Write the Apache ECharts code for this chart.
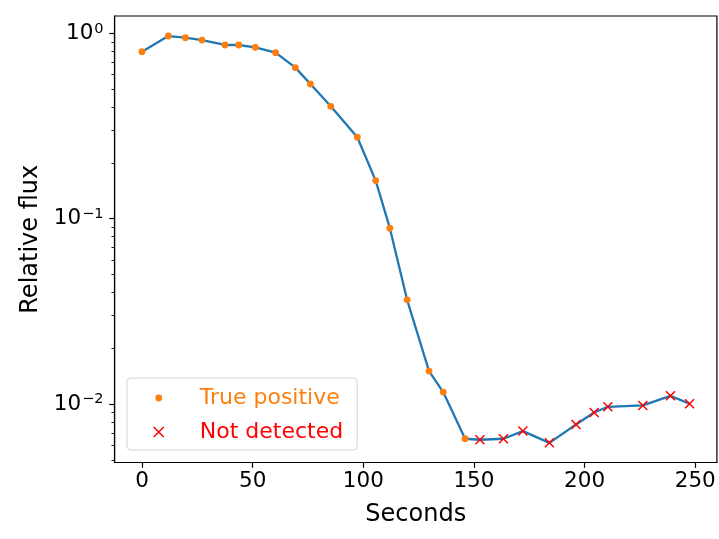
<!DOCTYPE html>
<html>
<head>
<meta charset="utf-8">
<script src="https://cdn.jsdelivr.net/npm/echarts@6/dist/echarts.min.js"></script>
<style>
  html, body { margin: 0; padding: 0; background: #ffffff; }
  #chart { width: 719px; height: 539px; }
</style>
</head>
<body>
<div id="chart"></div>
<script>
// ---- data ----
const tpSeconds = [0, 11.9, 19.6, 27.1, 37.5, 43.7, 51.2, 60.4, 69.3, 76.1, 85.3, 97.3, 105.6, 112.0, 119.8, 129.7, 136.1, 146.0];
const tpFlux    = [0.796, 0.967, 0.947, 0.920, 0.865, 0.865, 0.840, 0.786, 0.653, 0.533, 0.404, 0.275, 0.1605, 0.0889, 0.0365, 0.01506, 0.01161, 0.00650];
const ndSeconds = [152.7, 163.3, 172.1, 184.1, 196.1, 204.3, 210.5, 226.3, 238.8, 247.4];
const ndFlux    = [0.00642, 0.00650, 0.00715, 0.00618, 0.00776, 0.00901, 0.00967, 0.00983, 0.01108, 0.01004];
const xTicks = [0, 50, 100, 150, 200, 250];
const yMajorTicks = [0.01, 0.1, 1];
const yMinorTicks = [0.005, 0.006, 0.007, 0.008, 0.009,
                     0.02, 0.03, 0.04, 0.05, 0.06, 0.07, 0.08, 0.09,
                     0.2, 0.3, 0.4, 0.5, 0.6, 0.7, 0.8, 0.9];
const seriesNames = ['True positive', 'Not detected'];
const xLabel = 'Seconds';
const yLabel = 'Relative flux';

// ---- build ----
const pair = (xs, ys) => xs.map((x, i) => [x, ys[i]]);
const tpData = pair(tpSeconds, tpFlux);
const ndData = pair(ndSeconds, ndFlux);
const lineData = tpData.concat(ndData);

const FONT = 'DejaVu Sans';
const FS = 21.5;
const FS_NAME = 24;
const FS_LEG = 22;
const crossPath = 'path://M0,0L10,10M10,0L0,10';
const dotLegendPath = 'path://M0,0M10,10M1.6,5A3.4,3.4,0,1,1,8.4,5A3.4,3.4,0,1,1,1.6,5Z';
const crossLegendPath = 'path://M0.5,0.5L9.5,9.5M9.5,0.5L0.5,9.5';

function supLabel(v) {
  const e = Math.round(Math.log10(v));
  const s = e < 0 ? '\u2212' + (-e) : String(e);
  return '{b|10}{s|' + s + '}';
}

const chart = echarts.init(document.getElementById('chart'), null, { renderer: 'canvas' });
chart.setOption({
  animation: false,
  backgroundColor: '#ffffff',
  textStyle: { fontFamily: FONT },
  grid: {
    left: 114.6, right: 2.1, top: 16, bottom: 76.5,
    show: true, borderColor: '#000000', borderWidth: 1.2, backgroundColor: 'transparent'
  },
  xAxis: {
    type: 'value',
    min: -12.37, max: 259.77,
    name: xLabel,
    nameLocation: 'middle',
    nameGap: 40,
    nameTextStyle: { fontFamily: FONT, fontSize: FS_NAME, color: '#000' },
    axisLine: { show: true, onZero: false, lineStyle: { color: '#000', width: 1.2 } },
    axisTick: { show: true, length: 5.3, lineStyle: { color: '#000', width: 1.2 }, customValues: xTicks },
    axisLabel: { show: true, margin: 8, fontFamily: FONT, fontSize: FS, color: '#000', customValues: xTicks },
    splitLine: { show: false }
  },
  yAxis: [{
    type: 'log',
    logBase: 10,
    min: 0.00484, max: 1.240,
    name: yLabel,
    nameLocation: 'middle',
    nameGap: 72,
    nameRotate: 90,
    nameTextStyle: { fontFamily: FONT, fontSize: FS_NAME, color: '#000' },
    axisLine: { show: true, onZero: false, lineStyle: { color: '#000', width: 1.2 } },
    axisTick: { show: true, length: 5.3, lineStyle: { color: '#000', width: 1.2 }, customValues: yMajorTicks },
    axisLabel: {
      show: true, margin: 11, customValues: yMajorTicks,
      formatter: supLabel,
      rich: {
        b: { fontFamily: FONT, fontSize: FS, color: '#000', lineHeight: 24 },
        s: { fontFamily: FONT, fontSize: 14.5, color: '#000', lineHeight: 15, verticalAlign: 'top', padding: [0, 0, 0, 1] }
      }
    },
    splitLine: { show: false }
  }, {
    type: 'log',
    logBase: 10,
    min: 0.00484, max: 1.240,
    position: 'left',
    axisLine: { show: false, onZero: false },
    axisTick: { show: true, length: 3.1, lineStyle: { color: '#000', width: 0.9 }, customValues: yMinorTicks },
    axisLabel: { show: false },
    splitLine: { show: false }
  }],
  legend: {
    show: true,
    orient: 'vertical',
    left: 127, top: 378,
    padding: [8, 14, 6, 26],
    itemGap: 10,
    itemWidth: 10, itemHeight: 10,
    selectedMode: false,
    backgroundColor: 'rgba(255,255,255,0.8)',
    borderColor: '#d5d5d5', borderWidth: 1, borderRadius: 4,
    formatter: name => '{p|}' + name,
    textStyle: { fontFamily: FONT, fontSize: FS_LEG, lineHeight: 24, rich: { p: { width: 31, lineHeight: 24 } } },
    data: [
      { name: seriesNames[0], icon: dotLegendPath, itemStyle: { color: '#ff7f0e', borderWidth: 0 }, textStyle: { color: '#ff7f0e' } },
      { name: seriesNames[1], icon: crossLegendPath, itemStyle: { color: 'rgba(0,0,0,0)', borderColor: '#ff0000', borderWidth: 1.5 }, textStyle: { color: '#ff0000' } }
    ]
  },
  series: [
    {
      name: 'flux',
      type: 'line',
      data: lineData,
      showSymbol: false,
      symbol: 'none',
      lineStyle: { color: '#1f77b4', width: 2.3 },
      itemStyle: { color: '#1f77b4' },
      z: 2
    },
    {
      name: seriesNames[0],
      type: 'scatter',
      data: tpData,
      symbol: 'circle',
      symbolSize: 6.8,
      itemStyle: { color: '#ff7f0e', borderWidth: 0, opacity: 1 },
      z: 3
    },
    {
      name: seriesNames[1],
      type: 'scatter',
      data: ndData,
      symbol: crossPath,
      symbolSize: 9,
      itemStyle: { color: 'rgba(0,0,0,0)', borderColor: '#ff0000', borderWidth: 1.5, opacity: 1 },
      z: 3
    }
  ]
});
</script>
</body>
</html>
